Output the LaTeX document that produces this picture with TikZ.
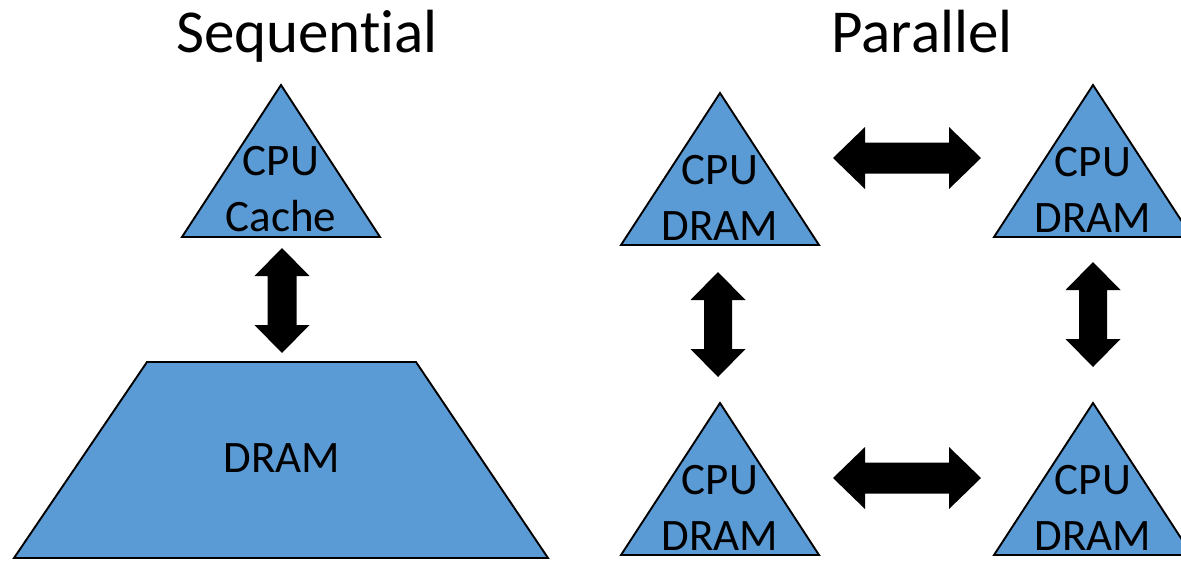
\documentclass[tikz,border=0pt]{standalone}
\usepackage{fontspec}
\setmainfont{Carlito}[Ligatures=NoCommon]
\usetikzlibrary{calc}
\definecolor{chipblue}{RGB}{91,155,213}
\tikzset{
  chip/.style={draw=black,fill=chipblue,line width=1.9pt,line join=miter},
  chiptext/.style={font=\fontsize{45}{56}\selectfont,align=center,anchor=base,inner sep=0pt},
  headline/.style={font=\fontsize{61}{70}\selectfont,anchor=base,inner sep=0pt},
  % block arrow: head length, head half width, shaft half width
  fatarrow/.style n args={3}{fill=black,to path={
    -- ($(\tikztostart)!#1!(\tikztotarget)!#2!90:(\tikztotarget)$)
    -- ($(\tikztostart)!#1!(\tikztotarget)!#3!90:(\tikztotarget)$)
    -- ($(\tikztotarget)!#1!(\tikztostart)!#3!-90:(\tikztostart)$)
    -- ($(\tikztotarget)!#1!(\tikztostart)!#2!-90:(\tikztostart)$)
    -- (\tikztotarget)
    -- ($(\tikztotarget)!#1!(\tikztostart)!#2!90:(\tikztostart)$)
    -- ($(\tikztotarget)!#1!(\tikztostart)!#3!90:(\tikztostart)$)
    -- ($(\tikztostart)!#1!(\tikztotarget)!#3!-90:(\tikztotarget)$)
    -- ($(\tikztostart)!#1!(\tikztotarget)!#2!-90:(\tikztotarget)$)
    -- cycle}}
}
\begin{document}
\begin{tikzpicture}[x=1pt,y=-1pt]
  \def\TriW{99}% half base of a chip
  \def\TriH{152}% height of a chip
  \useasboundingbox (0,0) rectangle (1181,560);
  % sequential
  \node[headline] (seqtitle) at (307,52) {Sequential};
  \draw[chip] (281,85) --++(\TriW,\TriH) --++(-2*\TriW,0) -- cycle;
  \node[chiptext] (seqcpu) at (281,231) {CPU\\Cache};
  \draw[chip] (147,362) -- (416,362) -- (548,558) -- (14,558) -- cycle;
  \node[chiptext] (seqdram) at (282,472) {DRAM};
  \coordinate (seqcpu-s) at (282,248);
  \coordinate (seqdram-n) at (282,353);
  \fill[fatarrow={28pt}{27.5pt}{14.5pt}] (seqcpu-s) to (seqdram-n);
  % parallel
  \node[headline] (partitle) at (922,52) {Parallel};
  \foreach \name/\x/\y in {tl/720/93,tr/1093/85,bl/720/403,br/1093/403}{
    \draw[chip] (\x,\y) --++(\TriW,\TriH) --++(-2*\TriW,0) -- cycle;
    \node[chiptext] (\name) at (\x,\y+147) {CPU\\DRAM};
  }
  \coordinate (tl-e) at (833,158);
  \coordinate (tr-w) at (981,158);
  \coordinate (bl-e) at (833,478);
  \coordinate (br-w) at (981,478);
  \coordinate (tl-s) at (718,272);
  \coordinate (bl-n) at (718,377);
  \coordinate (tr-s) at (1093,262);
  \coordinate (br-n) at (1093,367);
  \fill[fatarrow={32pt}{31pt}{15.5pt}] (tl-e) to (tr-w);
  \fill[fatarrow={32pt}{31pt}{15.5pt}] (bl-e) to (br-w);
  \fill[fatarrow={28pt}{27.5pt}{14pt}] (tl-s) to (bl-n);
  \fill[fatarrow={28pt}{27.5pt}{14pt}] (tr-s) to (br-n);
\end{tikzpicture}
\end{document}
